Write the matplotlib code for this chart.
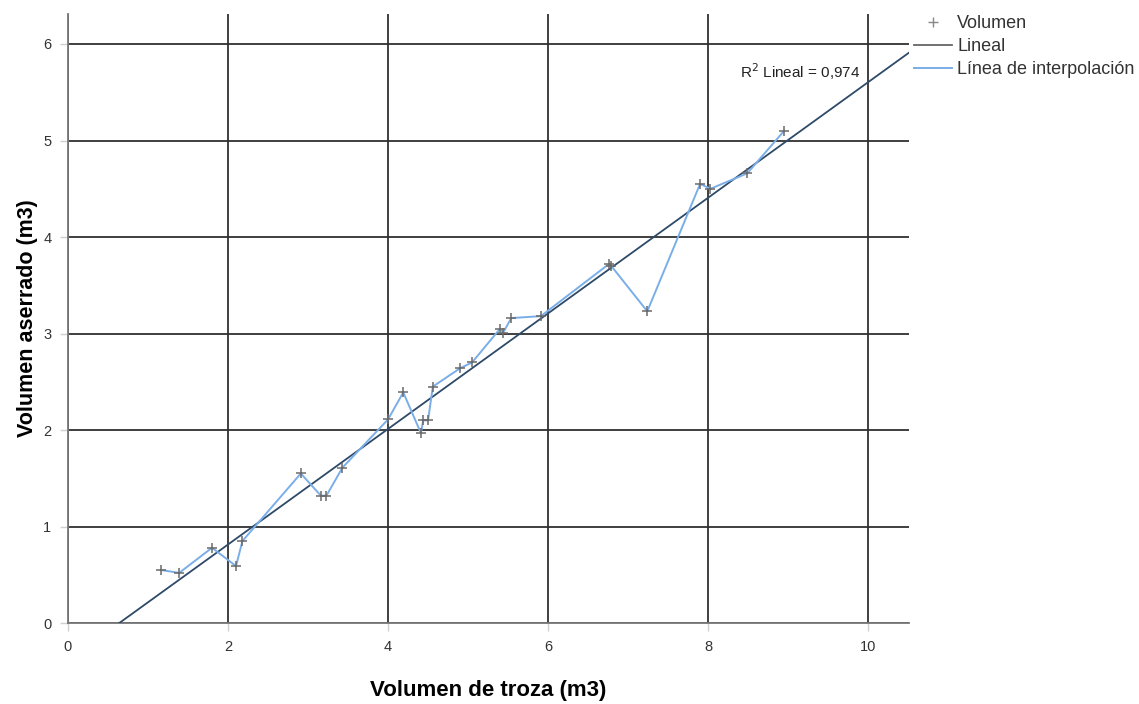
import matplotlib.pyplot as plt
import numpy as np
from matplotlib.lines import Line2D

plt.rcParams['font.family'] = ['Liberation Sans', 'DejaVu Sans']

volumen_troza = [1.16, 1.39, 1.80, 2.10, 2.18, 2.91, 3.16, 3.23, 3.43, 4.00,
                 4.19, 4.41, 4.44, 4.50, 4.56, 4.90, 5.05, 5.40, 5.44, 5.54,
                 5.91, 6.76, 6.79, 7.24, 7.90, 8.03, 8.49, 8.95]
volumen_aserrado = [0.55, 0.52, 0.78, 0.59, 0.85, 1.55, 1.32, 1.32, 1.61, 2.11,
                    2.39, 1.97, 2.10, 2.10, 2.45, 2.64, 2.70, 3.05, 3.01, 3.16,
                    3.18, 3.72, 3.70, 3.23, 4.55, 4.50, 4.66, 5.10]
r2_text = 'R$^2$ Lineal = 0,974'

x = np.array(volumen_troza)
y = np.array(volumen_aserrado)
slope, intercept = np.polyfit(x, y, 1)

fig = plt.figure(figsize=(11.39, 7.04), dpi=100)
ax = fig.add_axes([0.0597, 0.115, 0.7383, 0.865])

ax.set_xlim(0, 10.51)
ax.set_ylim(0, 6.31)
ax.set_xticks([0, 2, 4, 6, 8, 10])
ax.set_yticks([0, 1, 2, 3, 4, 5, 6])
ax.grid(True, color='#303030', linewidth=1.3)
ax.set_axisbelow(True)

for s in ['top', 'right']:
    ax.spines[s].set_visible(False)
for s in ['left', 'bottom']:
    ax.spines[s].set_color('#777777')
    ax.spines[s].set_linewidth(1.3)
ax.tick_params(length=6, width=1, color='#d0d0d0', labelsize=10.5,
               labelcolor='#333333', pad=6)

xx = np.array([0, 10.51])
ax.plot(xx, intercept + slope * xx, color='#2e4a68', linewidth=1.3, zorder=3)
order = np.argsort(x, kind='stable')
ax.plot(x[order], y[order], color='#7aaee8', linewidth=1.4, zorder=4)
ax.plot(x, y, linestyle='none', marker='+', markersize=7, markeredgewidth=1.1,
        color='#6a6a6a', zorder=5)

ax.text(9.9, 5.71, r2_text, ha='right', va='center', fontsize=11, color='#222222')

ax.set_xlabel('Volumen de troza (m3)', fontsize=16, fontweight='bold')
ax.set_ylabel('Volumen aserrado (m3)', fontsize=15.5, fontweight='bold')
ax.xaxis.set_label_coords(0.5, -0.093)
ax.yaxis.set_label_coords(-0.036, 0.5)

handles = [
    Line2D([], [], linestyle='none', marker='+', markersize=7, color='#888888'),
    Line2D([], [], color='#666666', linewidth=1.3),
    Line2D([], [], color='#7aaee8', linewidth=1.4),
]
labels = ['Volumen', 'Lineal', 'Línea de interpolación']
fig.legend(handles, labels, loc='upper left', bbox_to_anchor=(0.788, 1.002),
           frameon=False, fontsize=13, handlelength=2.1, handletextpad=0.3,
           labelspacing=0.35, labelcolor='#333333')

fig.savefig('out.png', dpi=100)
